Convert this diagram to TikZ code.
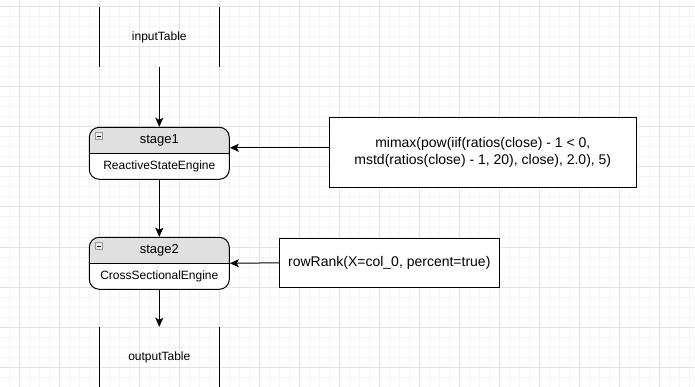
\documentclass[tikz,border=0pt]{standalone}
\usepackage{fontspec}
\setmainfont{Liberation Sans}
\usetikzlibrary{arrows.meta}

\definecolor{headgray}{RGB}{224,224,224}
\definecolor{majorgrid}{RGB}{226,226,226}
\definecolor{minorgrid}{RGB}{244,244,244}
\definecolor{icongray}{RGB}{150,150,150}

\begin{document}
\begin{tikzpicture}[
  x=1pt, y=-1pt,
  >={Stealth[length=9pt,width=8pt,inset=2pt]},
  font=\fontsize{12}{15}\selectfont,
  minor/.style={minorgrid,line width=1pt},
  major/.style={majorgrid,line width=1pt},
  flow/.style={->,line width=1pt},
  tablebox/.style={minimum width=120pt,minimum height=60pt,inner sep=0pt},
  tableside/.style={line width=1.2pt},
  stagebox/.style={draw,line width=1pt,fill=white,rounded corners=10pt,
    minimum width=140pt,minimum height=52pt,inner sep=0pt,
    path picture={
      \fill[headgray,sharp corners] (path picture bounding box.north west)
        rectangle ([yshift=-26pt]path picture bounding box.north east);
      \draw[line width=1pt,sharp corners]
        ([yshift=-26pt]path picture bounding box.north west)
        -- ([yshift=-26pt]path picture bounding box.north east);
      \draw[icongray,fill=headgray!60,line width=0.8pt,sharp corners]
        ([shift={(6pt,-5pt)}]path picture bounding box.north west)
        rectangle ++(7.5pt,-7.5pt);
      \draw[black,line width=0.9pt,sharp corners]
        ([shift={(8pt,-8.75pt)}]path picture bounding box.north west)
        -- ++(3.5pt,0pt);
    }},
  stagename/.style={font=\fontsize{13}{15}\selectfont},
  exprbox/.style={draw,line width=1pt,fill=white,align=center,inner sep=0pt,
    font=\fontsize{14}{16.5}\selectfont}
]

\useasboundingbox (0,0) rectangle (695,387);

% ------------------------------------------------------------------
% Background grid
% ------------------------------------------------------------------
\foreach \gx in {9,19,...,689}
  \draw[minor] (\gx,0) -- (\gx,387);
\foreach \gy in {7,17,...,387}
  \draw[minor] (0,\gy) -- (695,\gy);
\foreach \gx in {19,59,...,659}
  \draw[major] (\gx,0) -- (\gx,387);
\foreach \gy in {7,47,...,367}
  \draw[major] (0,\gy) -- (695,\gy);

% ------------------------------------------------------------------
% Tables
% ------------------------------------------------------------------
\node[tablebox] (inputTable) at (159.3,37) {inputTable};
\draw[tableside] (inputTable.north west) -- (inputTable.south west);
\draw[tableside] (inputTable.north east) -- (inputTable.south east);

\node[tablebox] (outputTable) at (159.3,357) {outputTable};
\draw[tableside] (outputTable.north west) -- (outputTable.south west);
\draw[tableside] (outputTable.north east) -- (outputTable.south east);

% ------------------------------------------------------------------
% Engine stages
% ------------------------------------------------------------------
\node[stagebox] (stage1) at (159.3,153.3) {};
\node[stagename] (stage1Name) at (159.3,140.3) {stage1};
\node (stage1Engine) at (159.3,166.3) {ReactiveStateEngine};

\node[stagebox] (stage2) at (159.3,263.3) {};
\node[stagename] (stage2Name) at (159.3,250.3) {stage2};
\node (stage2Engine) at (159.3,276.3) {CrossSectionalEngine};

% ------------------------------------------------------------------
% Factor expressions
% ------------------------------------------------------------------
\node[exprbox,minimum width=307pt,minimum height=70pt] (expr1) at (482.8,152.3)
  {mimax(pow(iif(ratios(close) - 1 < 0,\\
   mstd(ratios(close) - 1, 20), close), 2.0), 5)};
\node[exprbox,minimum width=220pt,minimum height=49pt] (expr2) at (389.3,262.8)
  {rowRank(X=col\_0, percent=true)};

% Connectors
\draw[flow] (inputTable.south) -- (stage1.north);
\draw[flow] (stage1.south) -- (stage2.north);
\draw[flow] (stage2.south) -- (outputTable.north);
\draw[flow] ([yshift=4.5pt]expr1.west) -- ([yshift=4.5pt]expr1.west -| stage1.east);
\draw[flow] (expr2.west) -- (stage2.east);

\end{tikzpicture}
\end{document}
